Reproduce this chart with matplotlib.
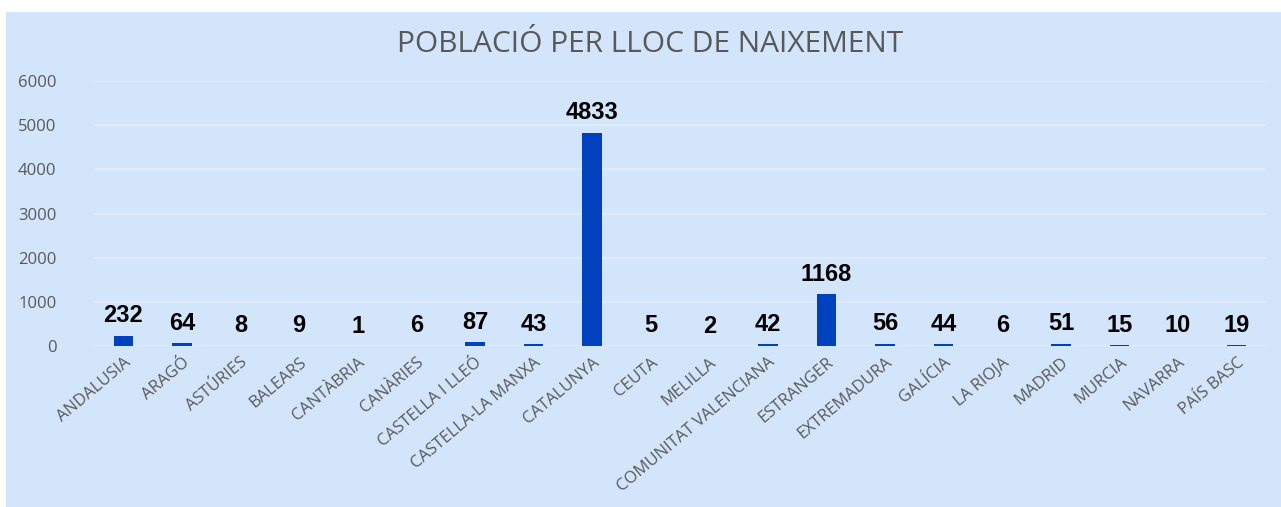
import matplotlib.pyplot as plt
from matplotlib.patches import Rectangle
from matplotlib.transforms import ScaledTranslation

plt.rcParams.update({
    "font.family": ["Open Sans", "DejaVu Sans"],
})

categories = [
    "ANDALUSIA", "ARAGÓ", "ASTÚRIES", "BALEARS", "CANTÀBRIA", "CANÀRIES",
    "CASTELLA I LLEÓ", "CASTELLA-LA MANXA", "CATALUNYA", "CEUTA", "MELILLA",
    "COMUNITAT VALENCIANA", "ESTRANGER", "EXTREMADURA", "GALÍCIA", "LA RIOJA",
    "MADRID", "MURCIA", "NAVARRA", "PAÍS BASC",
]
values = [232, 64, 8, 9, 1, 6, 87, 43, 4833, 5, 2, 42, 1168, 56, 44, 6,
          51, 15, 10, 19]
yticks = [0, 1000, 2000, 3000, 4000, 5000, 6000]

BG = "#d3e5fb"
BAR = "#0041be"
TXT = "#595959"

W, H = 1281, 507
fig = plt.figure(figsize=(W / 100, H / 100), dpi=100, facecolor="white")

# light blue panel behind the chart (white strip at top / left)
fig.patches.append(Rectangle((6 / W, 0), 1 - 6 / W, 1 - 12 / H,
                             transform=fig.transFigure, facecolor=BG,
                             edgecolor="none", zorder=-1))

ax = fig.add_axes([94 / W, 1 - 346 / H, (1266 - 94) / W, (346 - 81) / H])
ax.set_facecolor(BG)

x = list(range(len(categories)))
ax.bar(x, values, width=0.33, color=BAR, zorder=3)

for xi, v in zip(x, values):
    ax.annotate(str(v), (xi, v), xytext=(0, 6), textcoords="offset points",
                ha="center", va="bottom", fontsize=17, fontweight="bold",
                family="Liberation Sans", color="black", zorder=4)

ax.set_xlim(-0.5, len(categories) - 0.5)
ax.set_ylim(0, 6000)
ax.set_yticks(yticks)
ax.set_yticklabels([str(t) for t in yticks], fontsize=12, color=TXT)
ax.set_xticks(x)
ax.set_xticklabels(categories, rotation=40, ha="right",
                   rotation_mode="anchor", fontsize=12, color=TXT)
shift = ScaledTranslation(-4 / 100, -2 / 100, fig.dpi_scale_trans)
for lab in ax.get_xticklabels():
    lab.set_transform(lab.get_transform() + shift)
ax.tick_params(axis="both", length=0)
ax.tick_params(axis="y", pad=27)
ax.tick_params(axis="x", pad=6)

ax.grid(axis="y", color="#e3edf8", linewidth=1.2, zorder=0)
for s in ax.spines.values():
    s.set_visible(False)
ax.axhline(0, color="#e3edf8", linewidth=1.2, zorder=1)

fig.text(650 / W, 1 - 45 / H, "POBLACIÓ PER LLOC DE NAIXEMENT",
         ha="center", va="center", fontsize=21.5, color=TXT)

fig.savefig("out.png", dpi=100, facecolor="white")
